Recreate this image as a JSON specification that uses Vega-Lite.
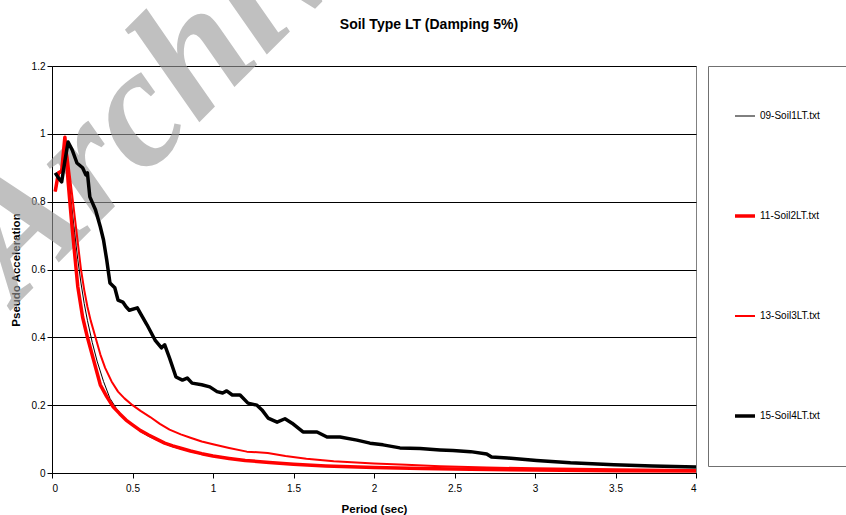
{
  "$schema": "https://vega.github.io/schema/vega-lite/v6.json",
  "width": 644,
  "height": 407,
  "autosize": {"type": "none"},
  "padding": {"left": 52, "top": 66, "right": 150, "bottom": 42},
  "background": "white",
  "title": {
    "text": "Soil Type LT (Damping 5%)",
    "font": "Liberation Sans",
    "fontSize": 14,
    "fontWeight": "bold",
    "color": "black",
    "anchor": "middle",
    "dx": 55,
    "offset": -211
  },
  "config": {
    "view": {"stroke": "#808080", "strokeWidth": 1},
    "axis": {
      "labelFont": "Liberation Sans",
      "labelFontSize": 10,
      "labelColor": "black",
      "titleFont": "Liberation Sans",
      "titleFontSize": 11.5,
      "titleFontWeight": "bold",
      "titleColor": "black",
      "domainColor": "black",
      "tickColor": "black",
      "tickSize": 5,
      "gridColor": "black",
      "gridWidth": 1,
      "gridOpacity": 1
    },
    "legend": {
      "labelFont": "Liberation Sans",
      "labelFontSize": 10,
      "labelColor": "black"
    }
  },
  "datasets": {
    "spectra": [
      {"series": "09-Soil1LT.txt", "period": 0.02, "accel": 0.84},
      {"series": "09-Soil1LT.txt", "period": 0.04, "accel": 0.88},
      {"series": "09-Soil1LT.txt", "period": 0.06, "accel": 0.89},
      {"series": "09-Soil1LT.txt", "period": 0.08, "accel": 0.97},
      {"series": "09-Soil1LT.txt", "period": 0.10, "accel": 0.90},
      {"series": "09-Soil1LT.txt", "period": 0.12, "accel": 0.80},
      {"series": "09-Soil1LT.txt", "period": 0.14, "accel": 0.71},
      {"series": "09-Soil1LT.txt", "period": 0.16, "accel": 0.63},
      {"series": "09-Soil1LT.txt", "period": 0.18, "accel": 0.56},
      {"series": "09-Soil1LT.txt", "period": 0.20, "accel": 0.50},
      {"series": "09-Soil1LT.txt", "period": 0.22, "accel": 0.45},
      {"series": "09-Soil1LT.txt", "period": 0.25, "accel": 0.385},
      {"series": "09-Soil1LT.txt", "period": 0.28, "accel": 0.33},
      {"series": "09-Soil1LT.txt", "period": 0.32, "accel": 0.27},
      {"series": "09-Soil1LT.txt", "period": 0.36, "accel": 0.22},
      {"series": "09-Soil1LT.txt", "period": 0.40, "accel": 0.19},
      {"series": "09-Soil1LT.txt", "period": 0.46, "accel": 0.155},
      {"series": "09-Soil1LT.txt", "period": 0.50, "accel": 0.14},
      {"series": "09-Soil1LT.txt", "period": 0.55, "accel": 0.122},
      {"series": "09-Soil1LT.txt", "period": 0.60, "accel": 0.108},
      {"series": "09-Soil1LT.txt", "period": 0.65, "accel": 0.097},
      {"series": "09-Soil1LT.txt", "period": 0.70, "accel": 0.086},
      {"series": "09-Soil1LT.txt", "period": 0.75, "accel": 0.077},
      {"series": "09-Soil1LT.txt", "period": 0.80, "accel": 0.071},
      {"series": "09-Soil1LT.txt", "period": 0.86, "accel": 0.063},
      {"series": "09-Soil1LT.txt", "period": 0.93, "accel": 0.055},
      {"series": "09-Soil1LT.txt", "period": 1.00, "accel": 0.049},
      {"series": "09-Soil1LT.txt", "period": 1.10, "accel": 0.042},
      {"series": "09-Soil1LT.txt", "period": 1.20, "accel": 0.036},
      {"series": "09-Soil1LT.txt", "period": 1.35, "accel": 0.030},
      {"series": "09-Soil1LT.txt", "period": 1.50, "accel": 0.025},
      {"series": "09-Soil1LT.txt", "period": 1.70, "accel": 0.020},
      {"series": "09-Soil1LT.txt", "period": 2.00, "accel": 0.016},
      {"series": "09-Soil1LT.txt", "period": 2.30, "accel": 0.013},
      {"series": "09-Soil1LT.txt", "period": 2.60, "accel": 0.011},
      {"series": "09-Soil1LT.txt", "period": 3.00, "accel": 0.009},
      {"series": "09-Soil1LT.txt", "period": 3.50, "accel": 0.007},
      {"series": "09-Soil1LT.txt", "period": 4.00, "accel": 0.006},

      {"series": "11-Soil2LT.txt", "period": 0.02, "accel": 0.83},
      {"series": "11-Soil2LT.txt", "period": 0.04, "accel": 0.885},
      {"series": "11-Soil2LT.txt", "period": 0.06, "accel": 0.89},
      {"series": "11-Soil2LT.txt", "period": 0.08, "accel": 0.99},
      {"series": "11-Soil2LT.txt", "period": 0.09, "accel": 0.93},
      {"series": "11-Soil2LT.txt", "period": 0.10, "accel": 0.86},
      {"series": "11-Soil2LT.txt", "period": 0.12, "accel": 0.75},
      {"series": "11-Soil2LT.txt", "period": 0.14, "accel": 0.65},
      {"series": "11-Soil2LT.txt", "period": 0.16, "accel": 0.55},
      {"series": "11-Soil2LT.txt", "period": 0.19, "accel": 0.46},
      {"series": "11-Soil2LT.txt", "period": 0.22, "accel": 0.40},
      {"series": "11-Soil2LT.txt", "period": 0.26, "accel": 0.33},
      {"series": "11-Soil2LT.txt", "period": 0.30, "accel": 0.26},
      {"series": "11-Soil2LT.txt", "period": 0.34, "accel": 0.225},
      {"series": "11-Soil2LT.txt", "period": 0.38, "accel": 0.195},
      {"series": "11-Soil2LT.txt", "period": 0.42, "accel": 0.175},
      {"series": "11-Soil2LT.txt", "period": 0.46, "accel": 0.156},
      {"series": "11-Soil2LT.txt", "period": 0.50, "accel": 0.142},
      {"series": "11-Soil2LT.txt", "period": 0.55, "accel": 0.125},
      {"series": "11-Soil2LT.txt", "period": 0.60, "accel": 0.112},
      {"series": "11-Soil2LT.txt", "period": 0.65, "accel": 0.100},
      {"series": "11-Soil2LT.txt", "period": 0.70, "accel": 0.088},
      {"series": "11-Soil2LT.txt", "period": 0.75, "accel": 0.080},
      {"series": "11-Soil2LT.txt", "period": 0.80, "accel": 0.073},
      {"series": "11-Soil2LT.txt", "period": 0.86, "accel": 0.065},
      {"series": "11-Soil2LT.txt", "period": 0.93, "accel": 0.057},
      {"series": "11-Soil2LT.txt", "period": 1.00, "accel": 0.050},
      {"series": "11-Soil2LT.txt", "period": 1.10, "accel": 0.043},
      {"series": "11-Soil2LT.txt", "period": 1.20, "accel": 0.037},
      {"series": "11-Soil2LT.txt", "period": 1.35, "accel": 0.031},
      {"series": "11-Soil2LT.txt", "period": 1.50, "accel": 0.026},
      {"series": "11-Soil2LT.txt", "period": 1.70, "accel": 0.021},
      {"series": "11-Soil2LT.txt", "period": 2.00, "accel": 0.016},
      {"series": "11-Soil2LT.txt", "period": 2.30, "accel": 0.013},
      {"series": "11-Soil2LT.txt", "period": 2.60, "accel": 0.011},
      {"series": "11-Soil2LT.txt", "period": 3.00, "accel": 0.009},
      {"series": "11-Soil2LT.txt", "period": 3.50, "accel": 0.007},
      {"series": "11-Soil2LT.txt", "period": 4.00, "accel": 0.006},

      {"series": "13-Soil3LT.txt", "period": 0.02, "accel": 0.83},
      {"series": "13-Soil3LT.txt", "period": 0.04, "accel": 0.88},
      {"series": "13-Soil3LT.txt", "period": 0.06, "accel": 0.89},
      {"series": "13-Soil3LT.txt", "period": 0.08, "accel": 0.99},
      {"series": "13-Soil3LT.txt", "period": 0.10, "accel": 0.92},
      {"series": "13-Soil3LT.txt", "period": 0.12, "accel": 0.84},
      {"series": "13-Soil3LT.txt", "period": 0.14, "accel": 0.76},
      {"series": "13-Soil3LT.txt", "period": 0.16, "accel": 0.68},
      {"series": "13-Soil3LT.txt", "period": 0.18, "accel": 0.60},
      {"series": "13-Soil3LT.txt", "period": 0.20, "accel": 0.54},
      {"series": "13-Soil3LT.txt", "period": 0.22, "accel": 0.49},
      {"series": "13-Soil3LT.txt", "period": 0.24, "accel": 0.45},
      {"series": "13-Soil3LT.txt", "period": 0.27, "accel": 0.40},
      {"series": "13-Soil3LT.txt", "period": 0.30, "accel": 0.35},
      {"series": "13-Soil3LT.txt", "period": 0.33, "accel": 0.31},
      {"series": "13-Soil3LT.txt", "period": 0.37, "accel": 0.27},
      {"series": "13-Soil3LT.txt", "period": 0.41, "accel": 0.24},
      {"series": "13-Soil3LT.txt", "period": 0.45, "accel": 0.22},
      {"series": "13-Soil3LT.txt", "period": 0.50, "accel": 0.20},
      {"series": "13-Soil3LT.txt", "period": 0.55, "accel": 0.183},
      {"series": "13-Soil3LT.txt", "period": 0.61, "accel": 0.165},
      {"series": "13-Soil3LT.txt", "period": 0.67, "accel": 0.145},
      {"series": "13-Soil3LT.txt", "period": 0.73, "accel": 0.128},
      {"series": "13-Soil3LT.txt", "period": 0.80, "accel": 0.114},
      {"series": "13-Soil3LT.txt", "period": 0.86, "accel": 0.104},
      {"series": "13-Soil3LT.txt", "period": 0.93, "accel": 0.093},
      {"series": "13-Soil3LT.txt", "period": 1.00, "accel": 0.085},
      {"series": "13-Soil3LT.txt", "period": 1.10, "accel": 0.074},
      {"series": "13-Soil3LT.txt", "period": 1.21, "accel": 0.063},
      {"series": "13-Soil3LT.txt", "period": 1.34, "accel": 0.059},
      {"series": "13-Soil3LT.txt", "period": 1.45, "accel": 0.050},
      {"series": "13-Soil3LT.txt", "period": 1.58, "accel": 0.042},
      {"series": "13-Soil3LT.txt", "period": 1.75, "accel": 0.035},
      {"series": "13-Soil3LT.txt", "period": 2.00, "accel": 0.028},
      {"series": "13-Soil3LT.txt", "period": 2.20, "accel": 0.024},
      {"series": "13-Soil3LT.txt", "period": 2.41, "accel": 0.020},
      {"series": "13-Soil3LT.txt", "period": 2.70, "accel": 0.016},
      {"series": "13-Soil3LT.txt", "period": 3.00, "accel": 0.014},
      {"series": "13-Soil3LT.txt", "period": 3.50, "accel": 0.011},
      {"series": "13-Soil3LT.txt", "period": 4.00, "accel": 0.009},

      {"series": "15-Soil4LT.txt", "period": 0.02, "accel": 0.885},
      {"series": "15-Soil4LT.txt", "period": 0.04, "accel": 0.87},
      {"series": "15-Soil4LT.txt", "period": 0.06, "accel": 0.858},
      {"series": "15-Soil4LT.txt", "period": 0.08, "accel": 0.92},
      {"series": "15-Soil4LT.txt", "period": 0.10, "accel": 0.976},
      {"series": "15-Soil4LT.txt", "period": 0.125, "accel": 0.953},
      {"series": "15-Soil4LT.txt", "period": 0.155, "accel": 0.914},
      {"series": "15-Soil4LT.txt", "period": 0.19, "accel": 0.90},
      {"series": "15-Soil4LT.txt", "period": 0.21, "accel": 0.879},
      {"series": "15-Soil4LT.txt", "period": 0.22, "accel": 0.885},
      {"series": "15-Soil4LT.txt", "period": 0.235, "accel": 0.814},
      {"series": "15-Soil4LT.txt", "period": 0.27, "accel": 0.776},
      {"series": "15-Soil4LT.txt", "period": 0.30, "accel": 0.726},
      {"series": "15-Soil4LT.txt", "period": 0.32, "accel": 0.687},
      {"series": "15-Soil4LT.txt", "period": 0.34, "accel": 0.628},
      {"series": "15-Soil4LT.txt", "period": 0.36, "accel": 0.56},
      {"series": "15-Soil4LT.txt", "period": 0.39, "accel": 0.546},
      {"series": "15-Soil4LT.txt", "period": 0.41, "accel": 0.51},
      {"series": "15-Soil4LT.txt", "period": 0.44, "accel": 0.504},
      {"series": "15-Soil4LT.txt", "period": 0.46, "accel": 0.49},
      {"series": "15-Soil4LT.txt", "period": 0.48, "accel": 0.48},
      {"series": "15-Soil4LT.txt", "period": 0.53, "accel": 0.487},
      {"series": "15-Soil4LT.txt", "period": 0.55, "accel": 0.47},
      {"series": "15-Soil4LT.txt", "period": 0.59, "accel": 0.437},
      {"series": "15-Soil4LT.txt", "period": 0.64, "accel": 0.392},
      {"series": "15-Soil4LT.txt", "period": 0.68, "accel": 0.369},
      {"series": "15-Soil4LT.txt", "period": 0.70, "accel": 0.378},
      {"series": "15-Soil4LT.txt", "period": 0.73, "accel": 0.339},
      {"series": "15-Soil4LT.txt", "period": 0.77, "accel": 0.283},
      {"series": "15-Soil4LT.txt", "period": 0.81, "accel": 0.274},
      {"series": "15-Soil4LT.txt", "period": 0.84, "accel": 0.28},
      {"series": "15-Soil4LT.txt", "period": 0.87, "accel": 0.265},
      {"series": "15-Soil4LT.txt", "period": 0.93, "accel": 0.26},
      {"series": "15-Soil4LT.txt", "period": 0.98, "accel": 0.254},
      {"series": "15-Soil4LT.txt", "period": 1.025, "accel": 0.24},
      {"series": "15-Soil4LT.txt", "period": 1.06, "accel": 0.236},
      {"series": "15-Soil4LT.txt", "period": 1.085, "accel": 0.242},
      {"series": "15-Soil4LT.txt", "period": 1.12, "accel": 0.23},
      {"series": "15-Soil4LT.txt", "period": 1.168, "accel": 0.23},
      {"series": "15-Soil4LT.txt", "period": 1.217, "accel": 0.206},
      {"series": "15-Soil4LT.txt", "period": 1.273, "accel": 0.2},
      {"series": "15-Soil4LT.txt", "period": 1.304, "accel": 0.186},
      {"series": "15-Soil4LT.txt", "period": 1.342, "accel": 0.162},
      {"series": "15-Soil4LT.txt", "period": 1.398, "accel": 0.15},
      {"series": "15-Soil4LT.txt", "period": 1.447, "accel": 0.16},
      {"series": "15-Soil4LT.txt", "period": 1.491, "accel": 0.147},
      {"series": "15-Soil4LT.txt", "period": 1.559, "accel": 0.121},
      {"series": "15-Soil4LT.txt", "period": 1.646, "accel": 0.121},
      {"series": "15-Soil4LT.txt", "period": 1.708, "accel": 0.106},
      {"series": "15-Soil4LT.txt", "period": 1.789, "accel": 0.106},
      {"series": "15-Soil4LT.txt", "period": 1.894, "accel": 0.097},
      {"series": "15-Soil4LT.txt", "period": 1.975, "accel": 0.088},
      {"series": "15-Soil4LT.txt", "period": 2.056, "accel": 0.083},
      {"series": "15-Soil4LT.txt", "period": 2.161, "accel": 0.074},
      {"series": "15-Soil4LT.txt", "period": 2.286, "accel": 0.072},
      {"series": "15-Soil4LT.txt", "period": 2.41, "accel": 0.068},
      {"series": "15-Soil4LT.txt", "period": 2.49, "accel": 0.066},
      {"series": "15-Soil4LT.txt", "period": 2.60, "accel": 0.063},
      {"series": "15-Soil4LT.txt", "period": 2.70, "accel": 0.056},
      {"series": "15-Soil4LT.txt", "period": 2.73, "accel": 0.047},
      {"series": "15-Soil4LT.txt", "period": 2.83, "accel": 0.044},
      {"series": "15-Soil4LT.txt", "period": 3.01, "accel": 0.037},
      {"series": "15-Soil4LT.txt", "period": 3.22, "accel": 0.030},
      {"series": "15-Soil4LT.txt", "period": 3.49, "accel": 0.024},
      {"series": "15-Soil4LT.txt", "period": 3.73, "accel": 0.021},
      {"series": "15-Soil4LT.txt", "period": 4.00, "accel": 0.018}
    ]
  },
  "layer": [
    {
      "description": "Faint diagonal watermark behind the curves",
      "data": {"values": [{"word": "Archive"}]},
      "mark": {
        "type": "text",
        "font": "Liberation Serif",
        "fontSize": 170,
        "fontStyle": "italic",
        "fontWeight": "bold",
        "fill": "#9a9a9a",
        "opacity": 0.62,
        "angle": -45,
        "align": "left",
        "baseline": "alphabetic"
      },
      "encoding": {
        "x": {"datum": -0.22, "type": "quantitative", "title": "Period (sec)"},
        "y": {"datum": 0.496, "type": "quantitative", "title": "Pseudo Acceleration"},
        "text": {"field": "word"}
      }
    },
    {
      "data": {"name": "spectra"},
      "mark": {"type": "line", "strokeJoin": "round", "strokeCap": "butt"},
      "encoding": {
        "x": {
          "field": "period",
          "type": "quantitative",
          "title": "Period (sec)",
          "scale": {"domain": [0, 4], "nice": false, "zero": false},
          "axis": {
            "values": [0, 0.5, 1, 1.5, 2, 2.5, 3, 3.5, 4],
            "format": "~g",
            "grid": false,
            "labelPadding": 5,
            "titlePadding": 10
          }
        },
        "y": {
          "field": "accel",
          "type": "quantitative",
          "title": "Pseudo Acceleration",
          "scale": {"domain": [0, 1.2], "nice": false},
          "axis": {
            "values": [0, 0.2, 0.4, 0.6, 0.8, 1, 1.2],
            "format": "~g",
            "grid": true,
            "labelPadding": 2,
            "titlePadding": 10
          }
        },
        "color": {
          "field": "series",
          "type": "nominal",
          "scale": {
            "domain": ["09-Soil1LT.txt", "11-Soil2LT.txt", "13-Soil3LT.txt", "15-Soil4LT.txt"],
            "range": ["#000000", "#ff0000", "#ff0000", "#000000"]
          },
          "legend": {
            "title": " ",
            "titleOrient": "right",
            "titlePadding": 12,
            "titleFontSize": 10,
            "orient": "none",
            "legendX": 656,
            "legendY": 0,
            "symbolType": "stroke",
            "symbolSize": 400,
            "symbolOffset": 5,
            "labelOffset": 3,
            "padding": 20,
            "clipHeight": 60,
            "rowPadding": 40,
            "strokeColor": "#707070",
            "fillColor": "white"
          }
        },
        "strokeWidth": {
          "field": "series",
          "type": "nominal",
          "scale": {
            "type": "ordinal",
            "domain": ["09-Soil1LT.txt", "11-Soil2LT.txt", "13-Soil3LT.txt", "15-Soil4LT.txt"],
            "range": [1, 3.5, 2, 3.5]
          },
          "legend": {
            "title": " ",
            "titleOrient": "right",
            "titlePadding": 12,
            "titleFontSize": 10,
            "orient": "none",
            "legendX": 656,
            "legendY": 0,
            "symbolType": "stroke",
            "symbolSize": 400,
            "symbolOffset": 5,
            "labelOffset": 3,
            "padding": 20,
            "clipHeight": 60,
            "rowPadding": 40,
            "strokeColor": "#707070",
            "fillColor": "white"
          }
        }
      }
    }
  ]
}
